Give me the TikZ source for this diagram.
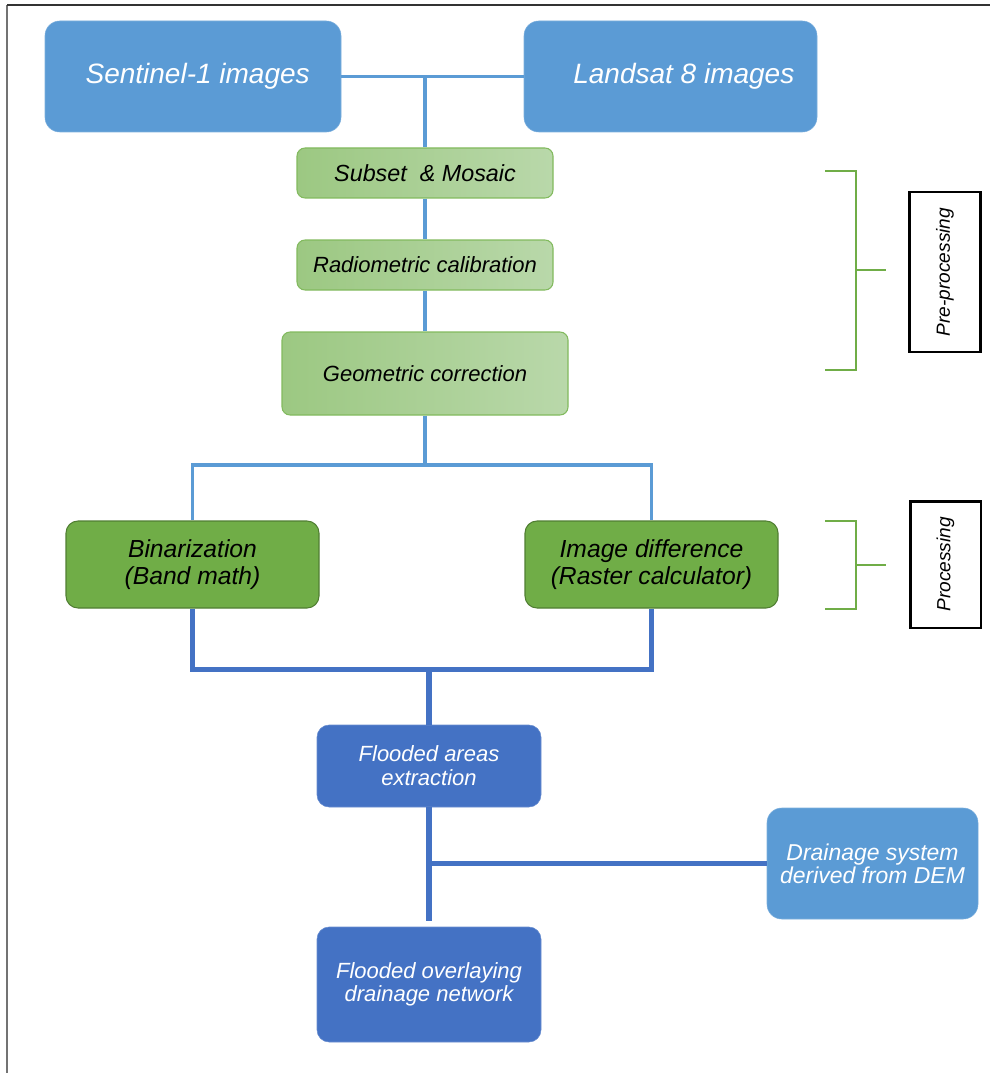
\documentclass[tikz,border=0pt]{standalone}
\usepackage{fontspec}
\setmainfont{Liberation Sans}
\usepackage{xcolor}
\usepackage{tikz}
\usetikzlibrary{positioning,fit,calc}
\definecolor{skyblue}{HTML}{5B9BD5}
\definecolor{royalblue}{HTML}{4472C4}
\definecolor{leafgreen}{HTML}{70AD47}
\definecolor{leafdark}{HTML}{507E32}
\definecolor{paleleft}{HTML}{9CC882}
\definecolor{paleright}{HTML}{B9D8AA}
\definecolor{paleedge}{HTML}{82BA5E}

\begin{document}
\begin{tikzpicture}[x=0.75pt, y=-0.75pt, thinlink/.style = {skyblue, line width=2.6pt}, boldlink/.style = {royalblue, line width=3.8pt}]
		\tikzset{srcbox/.style={draw=skyblue!80!white, fill=skyblue, rounded corners=11pt, inner sep=0pt}}
		\tikzset{prebox/.style={draw=paleedge, left color=paleleft, right color=paleright, rounded corners=6pt, inner sep=0pt, line width=0.8pt}}
		\tikzset{probox/.style={draw=leafdark, fill=leafgreen, rounded corners=9pt, inner sep=0pt, line width=0.8pt}}
		\tikzset{outbox/.style={draw=royalblue!80!white, fill=royalblue, rounded corners=9pt, inner sep=0pt}}
		\tikzset{whitetext/.style 2 args={text=white, align=center, inner sep=0pt, font=\fontsize{#1}{#2}\selectfont\itshape}}
		\tikzset{blacktext/.style 2 args={text=black, align=center, inner sep=0pt, font=\fontsize{#1}{#2}\selectfont\itshape}}
		\tikzset{bracket/.style={leafgreen, line width=2.2pt}}
		\tikzset{stagebox/.style={draw=black, line width=2pt, rotate=90, inner sep=0pt, font=\fontsize{14.3}{16}\selectfont\itshape}}
		\useasboundingbox (0,0) rectangle (990,1073);

		% frame
		\draw[gray!90!black, line width=1.5pt] (7,1073) -- (7,5);
		\draw[black!80, line width=1.5pt] (7,5) -- (990,5);

		% input images
		\node[fit={(45,21) (341,132)}, srcbox, label={[whitetext={21}{25}]center:\hspace*{7pt}Sentinel-1 images}] (sentinel) {};
		\node[fit={(524,21) (817,132)}, srcbox, label={[whitetext={21}{25}]center:\hspace*{20pt}Landsat 8 images}] (landsat) {};

		% pre-processing
		\node[fit={(297,148) (553,198)}, prebox, label={[blacktext={17.5}{20}]center:Subset \ \& Mosaic}] (subset) {};
		\node[fit={(297,240) (553,290)}, prebox, label={[blacktext={16.5}{20}]center:Radiometric calibration}] (radio) {};
		\node[fit={(282,332) (568,415)}, prebox, label={[blacktext={16.5}{20}]center:Geometric correction}] (geo) {};

		% processing
		\node[fit={(66,521) (319,608)}, probox, label={[blacktext={18.5}{20}]center:{Binarization\\(Band math)}}] (binar) {};
		\node[fit={(525,521) (778,608)}, probox, label={[blacktext={18.5}{20}]center:{Image difference\\(Raster calculator)}}] (imgdiff) {};

		% outputs
		\node[fit={(317,725) (541,807)}, outbox, label={[whitetext={16.5}{18}]center:{Flooded areas\\extraction}}] (flood) {};
		\node[fit={(767,808) (978,919)}, srcbox, label={[whitetext={17.2}{17.3}]center:{Drainage system\\derived from DEM}}] (drain) {};
		\node[fit={(317,927) (541,1042)}, outbox, label={[whitetext={16.5}{17.3}]center:{Flooded overlaying\\drainage network}}] (overlay) {};

		\coordinate (split) at (425,465);
		\path (flood.north) ++(0,-55) coordinate (merge);

		\draw[thinlink] (sentinel.east) -- (landsat.west);
		\draw[thinlink] (subset.north |- sentinel.east) -- (subset.north);
		\draw[thinlink] (subset.south) -- (radio.north);
		\draw[thinlink] (radio.south) -- (geo.north);
		\draw[thinlink] (geo.south) -- (split);
		\draw[thinlink] (binar.north) |- (split) -| (imgdiff.north);

		\draw[boldlink] (binar.south) |- (merge) -| (imgdiff.south);
		\draw[boldlink] (merge) -- (flood.north);
		\draw[boldlink] (flood.south) -- ([yshift=4]overlay.north);
		\draw[boldlink] (drain.west) -- (drain.west -| flood.south);

		% stage labels
		\draw[bracket] (825,171) -| (856,370) -- (825,370);
		\draw[bracket] (856,270) -- (886,270);
		\node[stagebox, minimum width=120pt, minimum height=53pt] (pre) at (945,272) {Pre-processing};

		\draw[bracket] (825,521) -| (856,609) -- (825,609);
		\draw[bracket] (856,565) -- (886,565);
		\node[stagebox, minimum width=95pt, minimum height=53pt] (proc) at (945.5,564.5) {Processing};

	\end{tikzpicture}
\end{document}
